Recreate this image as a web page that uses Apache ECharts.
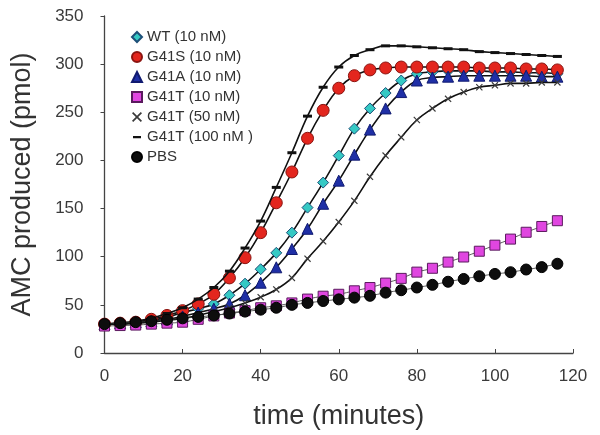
<!DOCTYPE html>
<html>
<head>
<meta charset="utf-8">
<script src="https://cdn.jsdelivr.net/npm/echarts@6/dist/echarts.min.js"></script>
<style>html,body{margin:0;padding:0;background:#fff}#c{width:600px;height:435px}</style>
</head>
<body>
<div id="c"></div>
<script>
var times = [0,4,8,12,16,20,24,28,32,36,40,44,48,52,56,60,64,68,72,76,80,84,88,92,96,100,104,108,112,116];
var seriesNames = ['WT (10 nM)','G41S (10 nM)','G41A (10 nM)','G41T (10 nM)','G41T (50 nM)','G41T (100 nM )','PBS'];
var wt      = [30,31,32,34,37,42,46,51,60,72,87,104,125,151,177,205,233,254,270,283,290,292,293,293,293,292,292,291,291,290];
var g41s    = [30,31,32,35,39,44,51,61,78,99,125,156,188,223,252,275,288,294,296,297,297,297,297,297,296,296,296,295,295,294];
var g41a    = [30,31,32,33,35,38,42,46,51,60,73,89,108,129,155,179,206,232,254,271,283,286,287,288,288,288,288,288,287,287];
var g41t10  = [28,28.5,29,30,31,32,35,38.5,41.5,44,47,49,52,56,59,61,64.6,68,72.6,77.5,84,88,94.4,99.7,105.7,112,118.3,125.4,131.4,137.4];
var g41t50  = [30,30,31,32,34,36,39,43,47,52,58,66,78,98,116,136,158,183,205,224,242,254,264,271,276,278,280,280,281,281];
var g41t100 = [30,31,33,36,41,47,56,68,85,109,137,172,208,246,276,297,309,315,319,319,318,317,316,315,313,312,311,310,309,308];
var pbs     = [30,31,32,33,34.5,36,37.5,39,41,43,45,47,50,52,54,55.7,57.5,59.4,62.7,65.2,68,70.8,74,76.9,79.7,82.1,83.9,86.7,89.2,92.7];

function pairs(v){ return times.map(function(t,i){ return [t, v[i]]; }); }

var xPath = 'path://M0,1.2L1.2,0L5,3.8L8.8,0L10,1.2L6.2,5L10,8.8L8.8,10L5,6.2L1.2,10L0,8.8L3.8,5Z';
var dashIcon = 'path://M0,0L10,0L10,0.01L0,0.01ZM1,4L9,4L9,6.2L1,6.2ZM0,9.99L10,9.99L10,10L0,10Z';

var styles = [
  {data: wt, symbol: 'diamond', size: 11, color: '#35c9c4', border: '#1d4f78', line: true, icon: 'diamond'},
  {data: g41s, symbol: 'circle', size: 12, color: '#e3261e', border: '#8b1410', line: true, icon: 'circle'},
  {data: g41a, symbol: 'triangle', size: 11, color: '#1f2fa6', border: '#101a70', line: true, icon: 'triangle'},
  {data: g41t10, symbol: 'rect', size: 10, color: '#e046e0', border: '#5a1a5e', line: false, icon: 'rect'},
  {data: g41t50, symbol: xPath, size: 7, color: '#3a3a3a', border: null, line: true, icon: xPath},
  {data: g41t100, symbol: 'rect', size: [9,3], color: '#111', border: null, line: true, icon: dashIcon},
  {data: pbs, symbol: 'circle', size: 11, color: '#0d0d0d', border: '#000', line: false, icon: 'circle'}
];

var series = styles.map(function(s, i){
  var is = {color: s.color};
  if (s.border) { is.borderColor = s.border; is.borderWidth = 1; }
  return {
    name: seriesNames[i],
    type: 'line',
    data: pairs(s.data),
    smooth: 0.4,
    symbol: s.symbol,
    symbolSize: s.size,
    showAllSymbol: true,
    lineStyle: s.line ? {color: '#111', width: 1.6} : {color: '#333', width: 0.8},
    itemStyle: is,
    z: 2 + i,
    emphasis: {disabled: true},
    animation: false
  };
});

var chart = echarts.init(document.getElementById('c'), null, {renderer: 'canvas'});
chart.setOption({
  backgroundColor: '#fff',
  animation: false,
  grid: {left: 104.5, right: 27, top: 16, bottom: 82, containLabel: false},
  legend: {
    orient: 'vertical',
    left: 126,
    top: 24,
    itemWidth: 10,
    itemHeight: 10,
    itemGap: 4,
    textStyle: {fontFamily: 'Liberation Sans, Arial', fontSize: 15, color: '#333', lineHeight: 16},
    data: seriesNames.map(function(n, i){ return {name: n, icon: styles[i].icon}; })
  },
  xAxis: {
    type: 'value', min: 0, max: 120, interval: 20,
    name: 'time (minutes)', nameLocation: 'middle', nameGap: 50,
    nameTextStyle: {fontFamily: 'Liberation Sans, Arial', fontSize: 27, color: '#333'},
    axisLine: {show: true, onZero: false, lineStyle: {color: '#444', width: 1.3}},
    axisTick: {show: true, inside: true, length: 4, lineStyle: {color: '#444'}},
    axisLabel: {fontFamily: 'Liberation Sans, Arial', fontSize: 17, color: '#3a3a3a', margin: 15},
    splitLine: {show: false}
  },
  yAxis: {
    type: 'value', min: 0, max: 350, interval: 50,
    name: 'AMC produced (pmol)', nameLocation: 'middle', nameGap: 68,
    nameTextStyle: {fontFamily: 'Liberation Sans, Arial', fontSize: 27, color: '#333'},
    axisLine: {show: true, lineStyle: {color: '#444', width: 1.3}},
    axisTick: {show: true, inside: false, length: 4, lineStyle: {color: '#444'}},
    axisLabel: {fontFamily: 'Liberation Sans, Arial', fontSize: 17, color: '#3a3a3a', margin: 21},
    splitLine: {show: false}
  },
  series: series
});
</script>
</body>
</html>
